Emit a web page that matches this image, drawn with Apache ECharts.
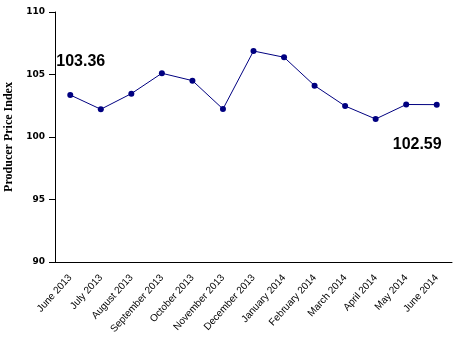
<!DOCTYPE html>
<html>
<head>
<meta charset="utf-8">
<script src="https://cdn.jsdelivr.net/npm/echarts@6/dist/echarts.min.js"></script>
<style>
  html, body { margin: 0; padding: 0; background: #fff; }
  #chart { width: 456px; height: 344px; }
</style>
</head>
<body>
<div id="chart"></div>
<script>
// Monthly producer price index, June 2013 to June 2014
const months = [
  'June 2013', 'July 2013', 'August 2013', 'September 2013', 'October 2013',
  'November 2013', 'December 2013', 'January 2014', 'February 2014',
  'March 2014', 'April 2014', 'May 2014', 'June 2014'
];
const ppi = [103.36, 102.22, 103.47, 105.10, 104.51, 102.24, 106.88, 106.38,
             104.11, 102.48, 101.44, 102.60, 102.59];
const yTicks = [90, 95, 100, 105, 110];

const chart = echarts.init(document.getElementById('chart'));
const last = ppi.length - 1;

chart.setOption({
  animation: false,
  grid: { left: 55, right: 4, top: 12, bottom: 82, containLabel: false, outerBoundsMode: 'none' },
  xAxis: {
    type: 'category',
    data: months,
    boundaryGap: true,
    axisLine: { lineStyle: { color: '#000', width: 1 } },
    axisTick: { interval: 1, length: 4, inside: false, lineStyle: { color: '#000' } },
    axisLabel: {
      interval: 0,
      rotate: 48,
      margin: 14,
      color: '#000',
      fontFamily: 'Liberation Sans, Arial, sans-serif',
      fontSize: 10
    }
  },
  yAxis: {
    type: 'value',
    min: yTicks[0],
    max: yTicks[yTicks.length - 1],
    interval: 5,
    name: 'Producer Price Index',
    nameLocation: 'middle',
    nameGap: 35,
    nameTextStyle: {
      fontFamily: 'Liberation Serif, Times New Roman, serif',
      fontWeight: 'bold',
      fontSize: 12,
      color: '#000'
    },
    splitLine: { show: false },
    axisLine: { show: true, lineStyle: { color: '#000', width: 1 } },
    axisTick: { show: true, length: 6, lineStyle: { color: '#000' } },
    axisLabel: {
      color: '#000',
      fontFamily: 'DejaVu Sans, Verdana, sans-serif',
      fontWeight: 'bold',
      fontSize: 9,
      margin: 10
    }
  },
  series: [{
    type: 'line',
    data: ppi.map((v, i) => ({
      value: v,
      label: (i === 0 || i === last) ? {
        show: true,
        formatter: (p) => p.value.toFixed(2),
        position: i === 0 ? [-11, -38] : [-41, 35],
        fontFamily: 'Liberation Sans, Arial, sans-serif',
        fontWeight: 'bold',
        fontSize: 16,
        color: '#000'
      } : { show: false }
    })),
    symbol: 'circle',
    symbolSize: 6,
    lineStyle: { color: '#000080', width: 1 },
    itemStyle: { color: '#000080' }
  }]
});
</script>
</body>
</html>
